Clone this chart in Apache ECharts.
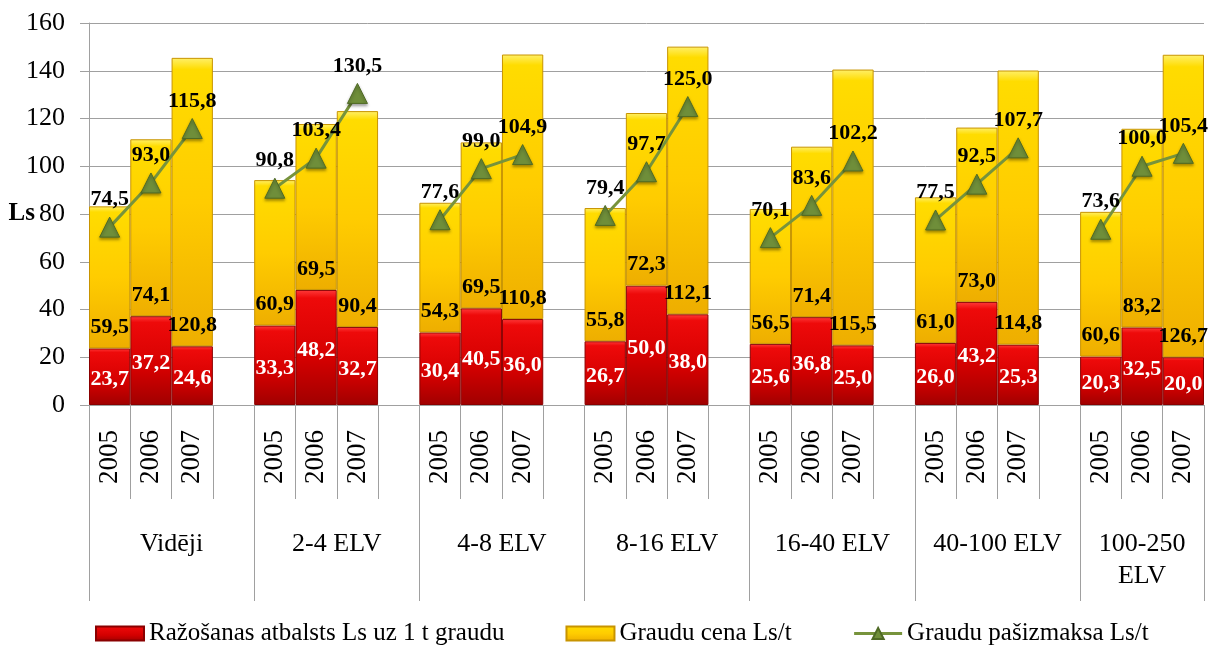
<!DOCTYPE html>
<html>
<head>
<meta charset="utf-8">
<script src="https://cdn.jsdelivr.net/npm/echarts@6/dist/echarts.min.js"></script>
<style>html,body{margin:0;padding:0;background:#fff}#c{width:1227px;height:648px}</style>
</head>
<body>
<div id="c"></div>
<script>
const groups = ['Vidēji', '2-4 ELV', '4-8 ELV', '8-16 ELV', '16-40 ELV', '40-100 ELV', '100-250 ELV'];
const years = ['2005', '2006', '2007'];
const support = [
  [23.7, 37.2, 24.6],
  [33.3, 48.2, 32.7],
  [30.4, 40.5, 36.0],
  [26.7, 50.0, 38.0],
  [25.6, 36.8, 25.0],
  [26.0, 43.2, 25.3],
  [20.3, 32.5, 20.0]
];
const price = [
  [59.5, 74.1, 120.8],
  [60.9, 69.5, 90.4],
  [54.3, 69.5, 110.8],
  [55.8, 72.3, 112.1],
  [56.5, 71.4, 115.5],
  [61.0, 73.0, 114.8],
  [60.6, 83.2, 126.7]
];
const cost = [
  [74.5, 93.0, 115.8],
  [90.8, 103.4, 130.5],
  [77.6, 99.0, 104.9],
  [79.4, 97.7, 125.0],
  [70.1, 83.6, 102.2],
  [77.5, 92.5, 107.7],
  [73.6, 100.0, 105.4]
];
const seriesNames = ['Ražošanas atbalsts Ls uz 1 t graudu', 'Graudu cena Ls/t', 'Graudu pašizmaksa Ls/t'];
const yName = 'Ls';
const yMin = 0, yMax = 160, yStep = 20;

// Build flat category list with a blank slot between groups
const cats = [], sup = [], pri = [], cst = [];
const bounds = [], centers = [], groupLabel = {};
groups.forEach((g, gi) => {
  const start = cats.length;
  bounds.push(start);
  years.forEach((y, yi) => {
    cats.push(y);
    sup.push(support[gi][yi]);
    pri.push(price[gi][yi]);
    cst.push(cost[gi][yi]);
  });
  if (gi < groups.length - 1) {
    cats.push('');
    sup.push(null); pri.push(null); cst.push(null);
  }
  const end = cats.length;
  const c = (start + end) / 2;
  centers.push(c);
  groupLabel[c] = (end - start) < 4 ? g.replace(' ', '\n') : g;
});
bounds.push(cats.length);

const FONT = '"Liberation Serif", "Times New Roman", serif';
const GRID = '#a0a0a0';
const fmt = v => (v == null ? '' : Number(v).toFixed(1).replace('.', ','));

const chart = echarts.init(document.getElementById('c'), null, {renderer: 'canvas'});
chart.setOption({
  animation: false,
  backgroundColor: '#ffffff',
  textStyle: {fontFamily: FONT},
  grid: {left: 89, right: 23, top: 23, bottom: 243, containLabel: false, outerBoundsMode: 'none'},
  legend: {
    left: 95, top: 621, padding: 0,
    itemWidth: 48, itemHeight: 14, itemGap: 61,
    textStyle: {fontFamily: FONT, fontSize: 25, color: '#000'},
    data: [
      {name: seriesNames[0], icon: 'rect'},
      {name: seriesNames[1], icon: 'rect'},
      {name: seriesNames[2], lineStyle: {width: 3}}
    ]
  },
  xAxis: [
    {
      type: 'category', data: cats, position: 'bottom',
      axisLine: {show: true, lineStyle: {color: GRID}},
      axisTick: {show: true, interval: 0, length: 94, lineStyle: {color: GRID}},
      axisLabel: {interval: 0, rotate: 90, margin: 25, fontSize: 27, fontFamily: FONT, color: '#000'},
      splitLine: {show: false}
    },
    {
      type: 'value', min: 0, max: cats.length, position: 'bottom',
      axisLine: {show: false},
      axisTick: {show: true, customValues: bounds, length: 196, lineStyle: {color: GRID}},
      axisLabel: {customValues: centers, margin: 123, fontSize: 26, fontFamily: FONT, color: '#000', lineHeight: 32,
        formatter: v => groupLabel[v] || ''},
      splitLine: {show: false}
    }
  ],
  yAxis: {
    type: 'value', min: yMin, max: yMax, interval: yStep,
    name: yName, nameLocation: 'middle', nameGap: 54, nameRotate: 0, nameMoveOverlap: false,
    nameTextStyle: {fontFamily: FONT, fontSize: 25, fontWeight: 'bold', color: '#000', align: 'right', verticalAlign: 'middle'},
    axisLine: {show: true, lineStyle: {color: GRID}},
    axisTick: {show: true, length: 9, lineStyle: {color: GRID}},
    axisLabel: {margin: 24, fontSize: 26, fontFamily: FONT, color: '#000'},
    splitLine: {show: true, lineStyle: {color: GRID, width: 1}}
  },
  series: [
    {
      name: seriesNames[0], type: 'bar', stack: 'a', data: sup,
      barCategoryGap: '0%',
      itemStyle: {
        color: new echarts.graphic.LinearGradient(0, 0, 0, 1, [
          {offset: 0, color: '#ff3a3a'}, {offset: 0.07, color: '#ee0a0a'},
          {offset: 0.6, color: '#d40000'}, {offset: 1, color: '#a00000'}
        ]),
        borderColor: '#8a0000', borderWidth: 1
      },
      label: {show: true, position: 'inside', formatter: p => fmt(p.value),
        fontFamily: FONT, fontSize: 22, fontWeight: 'bold', color: '#fff', offset: [0, 3]}
    },
    {
      name: seriesNames[1], type: 'bar', stack: 'a', data: pri,
      barCategoryGap: '0%',
      itemStyle: {
        color: new echarts.graphic.LinearGradient(0, 0, 0, 1, [
          {offset: 0, color: '#fff06a'}, {offset: 0.04, color: '#ffdc00'},
          {offset: 0.5, color: '#ffcc00'}, {offset: 1, color: '#eeae00'}
        ]),
        borderColor: '#c89400', borderWidth: 1
      },
      label: {show: true, position: 'insideBottom', distance: 10, formatter: p => fmt(p.value),
        fontFamily: FONT, fontSize: 22, fontWeight: 'bold', color: '#000'}
    },
    {
      name: seriesNames[2], type: 'line', data: cst, connectNulls: false,
      symbol: 'triangle', symbolSize: 20,
      lineStyle: {color: '#77933c', width: 3},
      itemStyle: {color: '#6f8e3a', borderColor: '#4f6a25', borderWidth: 1,
        shadowBlur: 3, shadowColor: 'rgba(0,0,0,0.35)', shadowOffsetY: 2},
      label: {show: true, position: 'top', distance: 6, formatter: p => fmt(p.value),
        fontFamily: FONT, fontSize: 22, fontWeight: 'bold', color: '#000'},
      z: 5
    }
  ]
});
</script>
</body>
</html>
